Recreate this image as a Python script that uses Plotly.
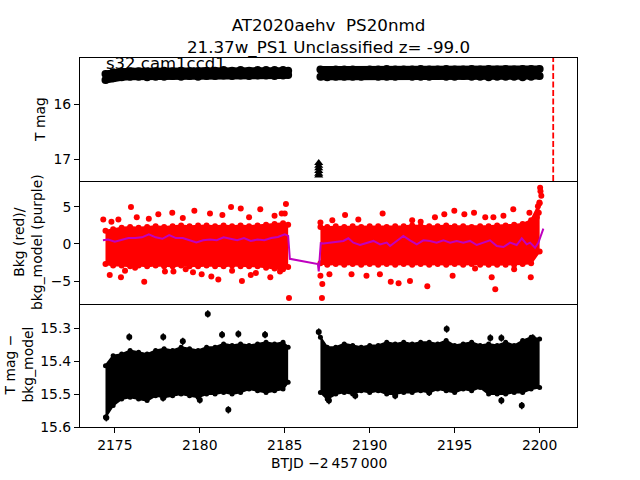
import plotly.graph_objects as go
from plotly.subplots import make_subplots

# ---------------- data ----------------
# time bins (BTJD - 2457000), 0.5 day
seg1_t = [2174.45, 2174.9, 2175.4, 2175.9, 2176.4, 2176.9, 2177.4, 2177.9, 2178.4, 2178.9,
          2179.4, 2179.9, 2180.4, 2180.9, 2181.4, 2181.9, 2182.4, 2182.9, 2183.4, 2183.9,
          2184.4, 2184.9, 2185.2]
seg2_t = [2187.1, 2187.5, 2188.0, 2188.5, 2189.0, 2189.5, 2190.0, 2190.5, 2191.0, 2191.5,
          2192.0, 2192.5, 2193.0, 2193.5, 2194.0, 2194.5, 2195.0, 2195.5, 2196.0, 2196.5,
          2197.0, 2197.5, 2198.0, 2198.5, 2199.0, 2199.5, 2200.0]

# Panel 1: T mag band (bright / faint envelope of point centres)
tmag1_lo = [15.45, 15.42, 15.41, 15.40, 15.40, 15.41, 15.40, 15.39, 15.40, 15.39, 15.40, 15.40,
            15.39, 15.39, 15.38, 15.39, 15.38, 15.39, 15.38, 15.38, 15.38, 15.38, 15.39]
tmag1_hi = [15.56, 15.53, 15.51, 15.50, 15.50, 15.51, 15.50, 15.50, 15.49, 15.50, 15.49, 15.50,
            15.49, 15.49, 15.48, 15.49, 15.48, 15.49, 15.48, 15.48, 15.49, 15.48, 15.47]
tmag2_lo = [15.37, 15.38, 15.37, 15.37, 15.37, 15.38, 15.37, 15.37, 15.36, 15.37, 15.37, 15.37,
            15.36, 15.37, 15.37, 15.36, 15.37, 15.37, 15.36, 15.37, 15.36, 15.37, 15.36, 15.37,
            15.36, 15.36, 15.36]
tmag2_hi = [15.50, 15.51, 15.50, 15.50, 15.50, 15.50, 15.49, 15.50, 15.50, 15.50, 15.49, 15.50,
            15.50, 15.50, 15.49, 15.50, 15.50, 15.49, 15.50, 15.50, 15.51, 15.50, 15.50, 15.50,
            15.51, 15.50, 15.49]
# upper limits (triangles)
lim_t = [2187.0, 2187.0, 2187.0, 2187.0, 2187.0, 2187.0]
lim_mag = [17.07, 17.12, 17.17, 17.22, 17.27, 17.30]
vline_t = 2200.8

# Panel 2: background (red) dense core envelope
bkg1_lo = [-2.7, -2.9, -2.9, -3.0, -2.9, -3.0, -2.9, -3.0, -3.0, -2.9, -3.0, -3.0, -2.9, -3.0,
           -3.0, -2.9, -3.0, -3.0, -3.0, -3.2, -3.3, -3.4, -3.1]
bkg1_hi = [1.8, 2.0, 2.2, 2.3, 2.2, 2.3, 2.4, 2.3, 2.4, 2.5, 2.4, 2.5, 2.5, 2.4, 2.5, 2.4, 2.5,
           2.4, 2.5, 2.6, 2.7, 2.8, 2.6]
bkg2_lo = [-2.6, -2.8, -2.7, -2.8, -2.7, -2.8, -2.7, -2.8, -2.7, -2.8, -2.7, -2.8, -2.7, -2.8,
           -2.7, -2.8, -2.7, -2.8, -2.7, -2.8, -2.8, -2.8, -2.8, -2.8, -2.7, -2.6, -1.0]
bkg2_hi = [2.3, 2.3, 2.4, 2.3, 2.4, 2.3, 2.4, 2.4, 2.3, 2.4, 2.4, 2.5, 2.4, 2.4, 2.4, 2.5, 2.4,
           2.4, 2.3, 2.4, 2.4, 2.5, 2.5, 2.6, 2.7, 3.2, 5.5]
# scattered background points outside the core
bkg_out_t = [2174.32, 2175.95, 2176.73, 2175.36, 2178.38, 2179.68, 2181.84, 2182.41, 2185.07,
             2185.25, 2181.09, 2182.48, 2184.15, 2180.11, 2180.68, 2179.17, 2174.70, 2177.56,
             2180.6, 2181.33, 2184.82, 2185.0, 2176.29, 2175.21, 2183.56, 2177.95, 2178.45,
             2176.19, 2184.72, 2183.0, 2181.9, 2174.8, 2177.0, 2179.0, 2182.9, 2184.4, 2175.6,
             2179.6, 2183.3,
             2187.19, 2187.21, 2187.1, 2187.1, 2188.55, 2190.76, 2191.24, 2191.7, 2190.6,
             2192.37, 2193.39, 2193.84, 2194.39, 2194.98, 2195.57, 2196.14, 2194.88, 2196.2,
             2197.18, 2197.39, 2198.45, 2197.87, 2197.28, 2198.5, 2199.48, 2199.4, 2200.03,
             2200.1, 2199.99, 2199.9, 2200.05, 2199.95, 2199.83, 2188.93, 2187.63, 2189.81,
             2187.8, 2189.33, 2192.5, 2193.0, 2196.8]
bkg_out_v = [3.3, 5.0, -5.1, -4.5, 4.2, 4.5, 5.0, 4.8, 5.4,
             -7.3, -4.8, -5.0, -4.5, -4.1, -4.4, -3.4, -4.2, 4.0,
             4.1, 3.9, 4.1, 4.1, 3.6, 3.3, 4.7, -3.7, -3.7,
             -3.2, -3.7, -4.2, -3.6, 3.0, 3.4, 3.5, 3.6, 3.8, -3.6,
             -3.8, -3.9,
             -7.3, -5.4, -4.3, 2.9, 3.9, 4.1, -5.1, -5.3, -4.1,
             -5.0, -5.7, 3.6, 4.0, 4.5, 4.0, 4.2, -4.3, -3.3,
             -4.5, -6.1, 4.7, 3.8, 3.6, -3.4, -4.5, 4.2, 7.6,
             6.5, 5.6, 5.1, 7.1, 4.2, 3.6, -4.1, -4.1, -4.3,
             3.2, 3.3, 3.2, 3.0, 3.6]
# background model (purple)
model_t = [2174.3, 2174.6, 2175.0, 2175.4, 2175.8, 2176.2, 2176.6, 2177.0, 2177.4, 2177.8,
           2178.2, 2178.6, 2179.0, 2179.4, 2179.8, 2180.2, 2180.6, 2181.0, 2181.4, 2181.8,
           2182.2, 2182.6, 2183.0, 2183.4, 2183.8, 2184.2, 2184.6, 2185.0, 2185.2, 2185.3,
           2186.95, 2187.0, 2187.12, 2187.27, 2187.86, 2188.45, 2188.74, 2189.04, 2189.43,
           2189.82, 2190.22, 2190.61, 2191.0, 2191.2, 2191.59, 2191.98, 2192.37, 2192.77,
           2193.16, 2193.55, 2193.94, 2194.34, 2194.73, 2195.12, 2195.51, 2195.9, 2196.3,
           2196.69, 2197.08, 2197.48, 2197.87, 2198.26, 2198.65, 2198.95, 2199.24, 2199.44,
           2199.63, 2199.73, 2199.93, 2200.22]
model_v = [0.5, 0.6, 0.3, 0.5, 0.8, 0.8, 0.9, 1.3, 0.9, 0.7,
           1.2, 0.8, 0.8, 0.5, 0.2, 0.5, 0.6, 0.5, 0.9, 0.7,
           0.5, 0.8, 0.4, 0.6, 0.5, 0.8, 0.95, 1.3, 1.1, -2.0,
           -2.7, -3.7, 0.1, 0.05, 0.18, 0.41, 0.77, 0.18, -0.14,
           0.18, 0.41, -0.05, 0.18, -0.27, 0.41, 1.08, 0.5, -0.05,
           0.5, 0.41, 0.18, 0.5, 0.18, 0.41, 0.18, 0.41, -0.14,
           0.18, 0.5, -0.27, -0.41, 0.18, -0.14, 0.77, -0.05, 0.18,
           -0.27, -0.5, 0.18, 2.07]

# Panel 3: T mag - bkg_model envelope (edges incl. error bars)
dmag1_lo = [15.414, 15.384, 15.379, 15.368, 15.373, 15.379, 15.368, 15.363, 15.368, 15.358,
            15.363, 15.368, 15.358, 15.358, 15.348, 15.353, 15.348, 15.353, 15.348, 15.343,
            15.348, 15.343, 15.358]
dmag1_hi = [15.570, 15.535, 15.515, 15.510, 15.515, 15.520, 15.505, 15.510, 15.505, 15.500,
            15.505, 15.510, 15.500, 15.500, 15.495, 15.500, 15.495, 15.485, 15.490, 15.495,
            15.490, 15.485, 15.464]
dmag2_lo = [15.328, 15.358, 15.358, 15.348, 15.353, 15.358, 15.353, 15.353, 15.343, 15.348,
            15.343, 15.348, 15.343, 15.343, 15.348, 15.338, 15.353, 15.348, 15.343, 15.353,
            15.348, 15.353, 15.343, 15.353, 15.338, 15.328, 15.333]
dmag2_hi = [15.495, 15.515, 15.500, 15.495, 15.500, 15.490, 15.495, 15.490, 15.500, 15.500,
            15.495, 15.495, 15.490, 15.495, 15.485, 15.490, 15.495, 15.485, 15.490, 15.480,
            15.500, 15.500, 15.500, 15.495, 15.495, 15.485, 15.480]
# individual points standing out of the band
dmag_pt_t = [2175.85, 2177.85, 2179.0, 2181.31, 2182.27, 2183.84, 2187.0, 2194.53, 2197.1,
             2197.75, 2199.6, 2180.47, 2181.68, 2177.84, 2180.0, 2198.95, 2197.75, 2187.6,
             2189.15, 2191.5, 2193.5, 2174.5]
dmag_pt_v = [15.327, 15.327, 15.34, 15.32, 15.318, 15.32, 15.312, 15.303, 15.33,
             15.33, 15.33, 15.257, 15.548, 15.512, 15.518, 15.535, 15.52, 15.52,
             15.505, 15.505, 15.495, 15.572]
dmag_pt_err = 0.011

title_lines = ["AT2020aehv \u00a0PS20nmd", "21.37w_PS1 Unclassified z= -99.0"]
field_label = "s32 cam1ccd1"
x_title = "BTJD \u22122\u2009457\u2009000"

# ---------------- figure ----------------
FONT = "DejaVu Sans"
fig = make_subplots(rows=3, cols=1, shared_xaxes=True, vertical_spacing=0)


def band(t, lo, hi, color, row, edge=2, dots=0):
    mk = dict(size=dots, color=color) if dots else None
    mode = "lines+markers" if dots else "lines"
    fig.add_trace(go.Scatter(x=t, y=lo, mode=mode, marker=mk,
                             line=dict(color=color, width=edge),
                             hoverinfo="skip", showlegend=False), row=row, col=1)
    fig.add_trace(go.Scatter(x=t, y=hi, mode=mode, marker=mk,
                             line=dict(color=color, width=edge),
                             fill="tonexty", fillcolor=color,
                             hoverinfo="skip", showlegend=False), row=row, col=1)


# panel 1
band(seg1_t, tmag1_lo, tmag1_hi, "black", 1, edge=7, dots=8)
band(seg2_t, tmag2_lo, tmag2_hi, "black", 1, edge=7, dots=8)
fig.add_trace(go.Scatter(x=lim_t, y=lim_mag, mode="markers",
                         marker=dict(symbol="triangle-up", size=8, color="black"),
                         showlegend=False), row=1, col=1)
fig.add_vline(x=vline_t, row=1, col=1,
              line=dict(color="red", dash="6px,2.5px", width=1.8))

# panel 2
band(seg1_t, bkg1_lo, bkg1_hi, "red", 2, edge=2, dots=6)
band(seg2_t, bkg2_lo, bkg2_hi, "red", 2, edge=2, dots=6)
fig.add_trace(go.Scatter(x=bkg_out_t, y=bkg_out_v, mode="markers",
                         marker=dict(size=6, color="red"), showlegend=False), row=2, col=1)
fig.add_trace(go.Scatter(x=model_t, y=model_v, mode="lines",
                         line=dict(color="#bf00bf", width=2),
                         showlegend=False), row=2, col=1)

# panel 3
band(seg1_t, dmag1_lo, dmag1_hi, "black", 3, edge=2, dots=5)
band(seg2_t, dmag2_lo, dmag2_hi, "black", 3, edge=2, dots=5)
fig.add_trace(go.Scatter(x=dmag_pt_t, y=dmag_pt_v, mode="markers",
                         marker=dict(size=6, color="black"),
                         error_y=dict(type="constant", value=dmag_pt_err, thickness=1.5,
                                      width=0, color="black"),
                         showlegend=False), row=3, col=1)

axis_common = dict(showline=True, linecolor="black", linewidth=1, mirror=True,
                   showgrid=False, zeroline=False, tickcolor="black", tickwidth=1,
                   ticklen=5, tickfont=dict(family=FONT, size=13.9, color="black"))
xr = [2172.95, 2202.2]
for r in (1, 2, 3):
    fig.update_xaxes(range=xr, row=r, col=1, **axis_common)
fig.update_xaxes(ticks="", showticklabels=False, row=1, col=1)
fig.update_xaxes(ticks="", showticklabels=False, mirror=False, row=2, col=1)
fig.update_xaxes(ticks="outside", mirror=False,
                 tickvals=[2175, 2180, 2185, 2190, 2195, 2200], row=3, col=1)
fig.update_yaxes(range=[17.4, 15.16], tickvals=[16, 17], ticks="outside",
                 row=1, col=1, **axis_common)
fig.update_yaxes(range=[-8.1, 8.5], tickvals=[-5, 0, 5], ticks="outside",
                 row=2, col=1, **axis_common)
fig.update_yaxes(range=[15.6, 15.227], tickvals=[15.3, 15.4, 15.5, 15.6],
                 tickformat=".1f", ticks="outside", row=3, col=1, **axis_common)

W, H = 640, 480
L, R, T, B = 80, 63, 58, 53
pw, ph = W - L - R, H - T - B


def px(x):
    return (x - L) / pw


def py(y):
    return (H - B - y) / ph


lab_font = dict(family=FONT, size=13.9, color="black")
annos = [
    dict(text="T mag", x=px(40), y=py(120), textangle=-90),
    dict(text="Bkg (red)/<br>bkg_model (purple)", x=px(28), y=py(242), textangle=-90),
    dict(text="T mag \u2212<br>bkg_model", x=px(18.5), y=py(365), textangle=-90),
    dict(text=x_title, x=px(328.5), y=py(463), textangle=0),
]
for a in annos:
    fig.add_annotation(xref="paper", yref="paper", showarrow=False, xanchor="center",
                       yanchor="middle", font=lab_font, **a)
fig.add_annotation(text=field_label, xref="paper", yref="paper", x=px(104), y=py(64),
                   xanchor="left", yanchor="middle", showarrow=False,
                   font=dict(family=FONT, size=16.5, color="black"))

fig.update_layout(
    width=W, height=H,
    margin=dict(l=L, r=R, t=T, b=B),
    paper_bgcolor="white", plot_bgcolor="white",
    font=dict(family=FONT, color="black"),
    title=dict(text="<br>".join(title_lines), x=px(328.5), xref="paper", xanchor="center",
               y=1 - 31 / H, yanchor="middle",
               font=dict(family=FONT, size=16.7, color="black")),
    showlegend=False,
)

fig.write_html("out.html",
               config={"displayModeBar": False},
               post_script="document.body.style.margin='0px';"
                           "document.body.style.overflow='hidden';")
